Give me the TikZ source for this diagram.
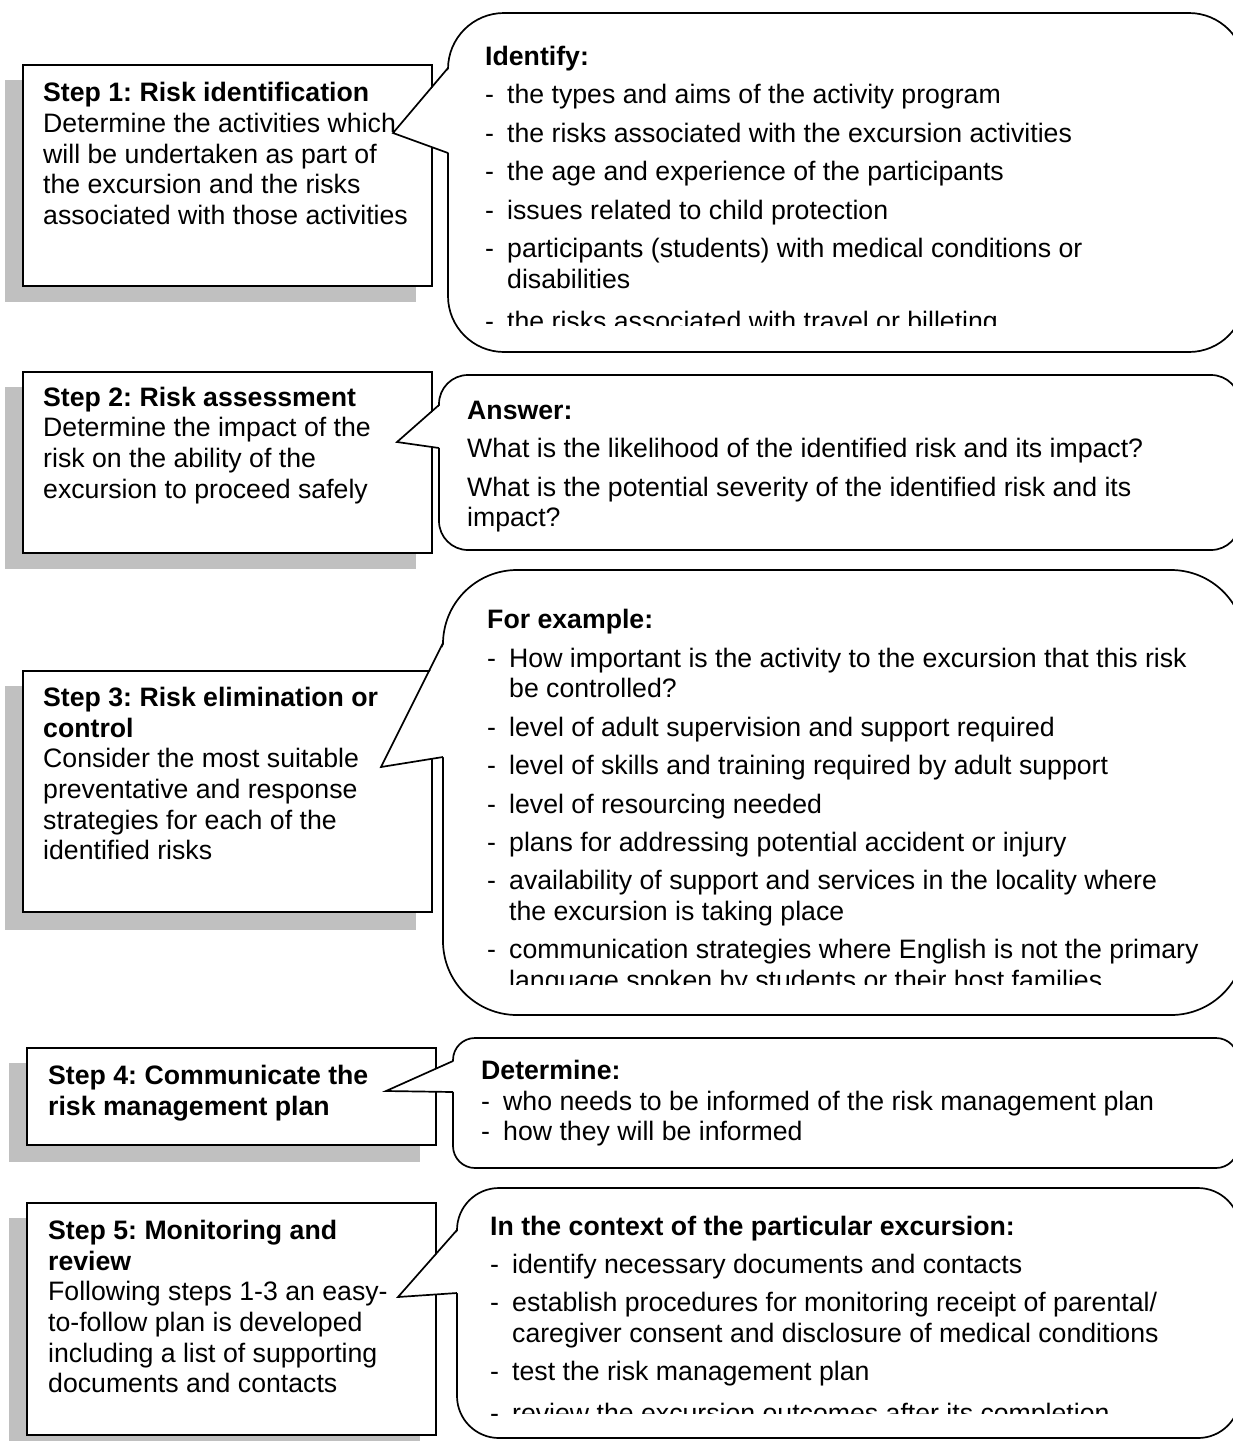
\documentclass[tikz,border=0pt]{standalone}
\usepackage{fontspec}
\setmainfont{Liberation Sans}
\frenchspacing
\definecolor{shadowgray}{HTML}{C0C0C0}
\newcommand\dsh{\makebox[22pt][l]{-}}
\newcommand\myind{\hspace*{22pt}}
\newcommand\mycallout[8]{%
  \draw[callout, rounded corners=#5pt] (#1,#2) rectangle (#3,#4);
  \fill[white] (#1+1.6,#6) -- (#7) -- (#1+1.6,#8) -- cycle;
  \draw[calloutline] (#1,#6) -- (#7) -- (#1,#8);
}
\tikzset{
  stepbox/.style={draw=black, line width=2pt, fill=white},
  shadowbox/.style={fill=shadowgray},
  callout/.style={draw=black, line width=1.7pt, fill=white},
  calloutline/.style={draw=black, line width=1.7pt, line join=miter},
  txt/.style={anchor=base west, inner sep=0pt, font=\fontsize{26.67}{30.67}\selectfont\frenchspacing},
}
\begin{document}
\begin{tikzpicture}[x=1pt, y=-1pt]
\clip (0,0) rectangle (1233,1441);
\fill[white] (0,0) rectangle (1233,1441);

% shadows
\fill[shadowbox] (5,80) rectangle (416,302);
\fill[shadowbox] (5,387) rectangle (416,569);
\fill[shadowbox] (5,686) rectangle (416,930);
\fill[shadowbox] (9,1063) rectangle (420,1162);
\fill[shadowbox] (9,1218) rectangle (420,1460);

% step boxes
\draw[stepbox] (22.7,65) rectangle (431.7,286);
\draw[stepbox] (22.7,372) rectangle (431.7,553);
\draw[stepbox] (22.7,671) rectangle (431.7,912);
\draw[stepbox] (26.5,1048) rectangle (436,1145);
\draw[stepbox] (26.5,1203) rectangle (436,1435);

% step texts
\foreach \txt [count=\i from 0] in {{\textbf{Step 1: Risk identification}},
  {Determine the activities which}, {will be undertaken as part of},
  {the excursion and the risks}, {associated with those activities}}
  \node[txt] (s1-\i) at (43,101.7+30.67*\i) {\txt};
\foreach \txt [count=\i from 0] in {{\textbf{Step 2: Risk assessment}},
  {Determine the impact of the}, {risk on the ability of the},
  {excursion to proceed safely}}
  \node[txt] (s2-\i) at (43,406+30.67*\i) {\txt};
\foreach \txt [count=\i from 0] in {{\textbf{Step 3: Risk elimination or}},
  {\textbf{control}}, {Consider the most suitable}, {preventative and response},
  {strategies for each of the}, {identified risks}}
  \node[txt] (s3-\i) at (43,706.5+30.67*\i) {\txt};
\foreach \txt [count=\i from 0] in {{\textbf{Step 4: Communicate the}},
  {\textbf{risk management plan}}}
  \node[txt] (s4-\i) at (48,1084.5+30.67*\i) {\txt};
\foreach \txt [count=\i from 0] in {{\textbf{Step 5: Monitoring and}},
  {\textbf{review}}, {Following steps 1-3 an easy-}, {to-follow plan is developed},
  {including a list of supporting}, {documents and contacts}}
  \node[txt] (s5-\i) at (48,1239.5+30.67*\i) {\txt};

% callouts
\mycallout{448}{13}{1245}{352}{56}{68}{393,133}{153}
\mycallout{439}{375}{1240}{550}{29}{405}{397,442}{448}
\mycallout{443}{570}{1245}{1015}{74}{643}{381,767}{757}
\mycallout{453}{1038}{1238}{1168}{22}{1061}{386,1091}{1092}
\mycallout{457}{1188}{1240}{1438}{42}{1230}{398,1297}{1293}

% callout 1 text
\foreach \yy/\txt [count=\i] in {65/{\textbf{Identify:}},
  103.5/{\dsh the types and aims of the activity program},
  142/{\dsh the risks associated with the excursion activities},
  180.5/{\dsh the age and experience of the participants},
  219/{\dsh issues related to child protection},
  257.5/{\dsh participants (students) with medical conditions or},
  288.2/{\myind disabilities}}
  \node[txt] (c1-\i) at (485,\yy) {\txt};
\node[txt] (c1-8d) at (485,330) {-};
\begin{scope}
  \clip (448,13) rectangle (1245,325.5);
  \node[txt] (c1-8) at (507,330) {the risks associated with travel or billeting};
\end{scope}

% callout 2 text
\foreach \yy/\txt [count=\i] in {419.3/{\textbf{Answer:}},
  457.7/{What is the likelihood of the identified risk and its impact?},
  496/{What is the potential severity of the identified risk and its},
  526.7/{impact?}}
  \node[txt] (c2-\i) at (467,\yy) {\txt};

% callout 3 text
\foreach \yy/\txt [count=\i] in {628.5/{\textbf{For example:}},
  667/{\dsh How important is the activity to the excursion that this risk},
  697.7/{\myind be controlled?},
  736/{\dsh level of adult supervision and support required},
  774.5/{\dsh level of skills and training required by adult support},
  813/{\dsh level of resourcing needed},
  851.3/{\dsh plans for addressing potential accident or injury},
  889.7/{\dsh availability of support and services in the locality where},
  920.4/{\myind the excursion is taking place},
  958.8/{\dsh communication strategies where English is not the primary}}
  \node[txt] (c3-\i) at (487,\yy) {\txt};
\begin{scope}
  \clip (443,570) rectangle (1245,984);
  \node[txt] (c3-11) at (509,989.5) {language spoken by students or their host families};
\end{scope}

% callout 4 text
\foreach \yy/\txt [count=\i] in {1079.3/{\textbf{Determine:}},
  1110/{\dsh who needs to be informed of the risk management plan},
  1140.7/{\dsh how they will be informed}}
  \node[txt] (c4-\i) at (481,\yy) {\txt};

% callout 5 text
\foreach \yy/\txt [count=\i] in {1235/{\textbf{In the context of the particular excursion:}},
  1273.4/{\dsh identify necessary documents and contacts},
  1311.8/{\dsh establish procedures for monitoring receipt of parental/},
  1342.5/{\myind caregiver consent and disclosure of medical conditions},
  1380.9/{\dsh test the risk management plan}}
  \node[txt] (c5-\i) at (490,\yy) {\txt};
\node[txt] (c5-6d) at (490,1422) {-};
\begin{scope}
  \clip (457,1188) rectangle (1240,1413);
  \node[txt] (c5-6) at (512,1422) {review the excursion outcomes after its completion};
\end{scope}
\end{tikzpicture}
\end{document}
